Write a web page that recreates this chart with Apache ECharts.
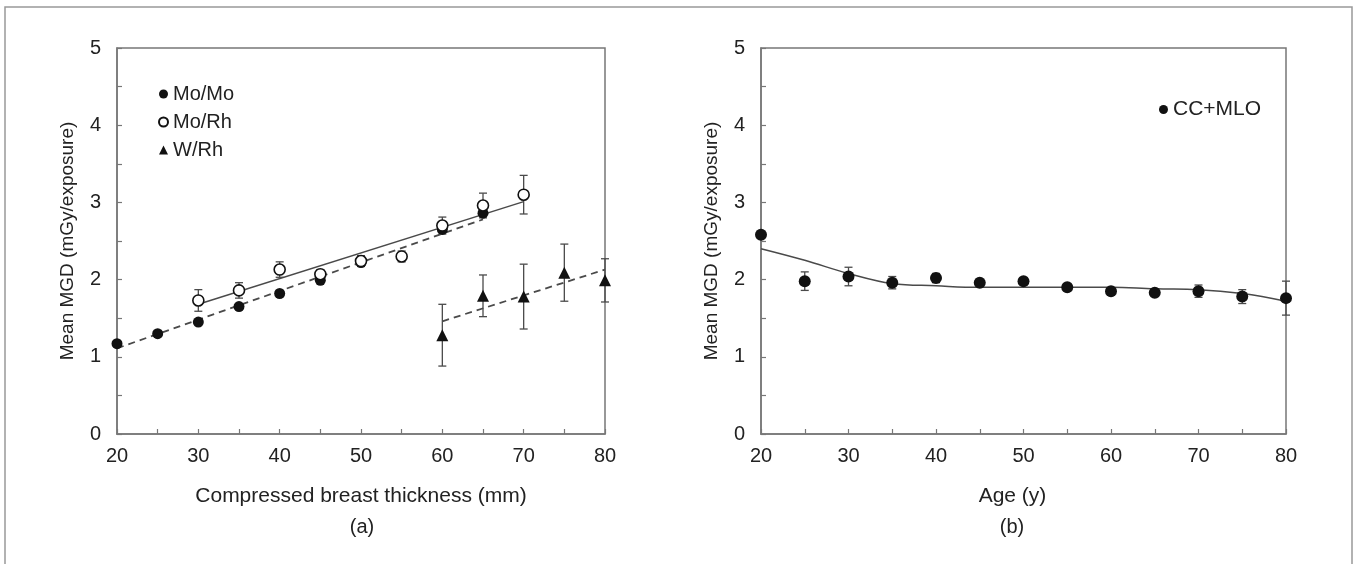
<!DOCTYPE html>
<html>
<head>
<meta charset="utf-8">
<script src="https://cdn.jsdelivr.net/npm/echarts@6/dist/echarts.min.js"></script>
<style>
html,body{margin:0;padding:0;background:#fff;}
#c{width:1361px;height:564px;}
</style>
</head>
<body>
<div id="c"></div>
<script>
// ---- Panel (a): MGD vs compressed breast thickness ----
const moMoX = [20, 25, 30, 35, 40, 45, 50, 60, 65];
const moMoY = [1.17, 1.30, 1.45, 1.65, 1.82, 1.99, 2.22, 2.65, 2.86];

const moRhX = [30, 35, 40, 45, 50, 55, 60, 65, 70];
const moRhY = [1.73, 1.86, 2.13, 2.07, 2.24, 2.30, 2.70, 2.96, 3.10];
const moRhErr = [0.14, 0.10, 0.10, 0.06, 0.07, 0.07, 0.11, 0.16, 0.25];

const wRhX = [60, 65, 70, 75, 80];
const wRhY = [1.28, 1.79, 1.78, 2.09, 1.99];
const wRhErr = [0.40, 0.27, 0.42, 0.37, 0.28];

const moMoFitX = [20, 65];
const moMoFitY = [1.11, 2.78];
const moRhFitX = [30, 70];
const moRhFitY = [1.68, 3.01];
const wRhFitX = [60, 80];
const wRhFitY = [1.46, 2.13];

// ---- Panel (b): MGD vs age ----
const ageX = [20, 25, 30, 35, 40, 45, 50, 55, 60, 65, 70, 75, 80];
const ageY = [2.58, 1.98, 2.04, 1.96, 2.02, 1.96, 1.98, 1.90, 1.85, 1.83, 1.85, 1.78, 1.76];
const ageErr = [0, 0.12, 0.12, 0.08, 0.06, 0.03, 0.03, 0.02, 0.02, 0.03, 0.08, 0.09, 0.22];
const ageFitY = [2.40, 2.25, 2.08, 1.95, 1.92, 1.90, 1.90, 1.90, 1.90, 1.88, 1.87, 1.82, 1.72];

const xTicksA = [20, 30, 40, 50, 60, 70, 80];
const yTicks = [0, 1, 2, 3, 4, 5];

const FONT = '"Liberation Sans", Arial, sans-serif';
const TXT = '#222';
const AX = '#777';
const MK = '#111';
const LN = '#4a4a4a';

function zip(xs, ys) { return xs.map((x, i) => [x, ys[i]]); }
function zipErr(xs, ys, es) { return xs.map((x, i) => [x, ys[i] - es[i], ys[i] + es[i]]); }

function errRender(params, api) {
  const x = api.value(0), lo = api.value(1), hi = api.value(2);
  if (hi - lo <= 0) return null;
  const p1 = api.coord([x, hi]);
  const p2 = api.coord([x, lo]);
  const w = 4;
  const style = { stroke: LN, lineWidth: 1.3 };
  return {
    type: 'group',
    children: [
      { type: 'line', shape: { x1: p1[0], y1: p1[1], x2: p2[0], y2: p2[1] }, style },
      { type: 'line', shape: { x1: p1[0] - w, y1: p1[1], x2: p1[0] + w, y2: p1[1] }, style },
      { type: 'line', shape: { x1: p2[0] - w, y1: p2[1], x2: p2[0] + w, y2: p2[1] }, style }
    ]
  };
}

function xAxisCfg(gi, name, shift) {
  return {
    type: 'value', gridIndex: gi, min: 20, max: 80, interval: 5,
    name: name, nameLocation: 'middle', nameGap: 52,
    nameTextStyle: { fontFamily: FONT, fontSize: 21, color: TXT, padding: [0, shift, 0, 0] },
    axisLine: { show: true, onZero: false, lineStyle: { color: AX, width: 1.5 } },
    axisTick: { show: true, inside: true, length: 5, lineStyle: { color: AX, width: 1.2 } },
    axisLabel: {
      margin: 12, fontFamily: FONT, fontSize: 20, color: TXT,
      formatter: v => (xTicksA.indexOf(v) >= 0 ? String(v) : '')
    },
    splitLine: { show: false }
  };
}
function yAxisCfg(gi) {
  return {
    type: 'value', gridIndex: gi, min: 0, max: 5, interval: 0.5,
    name: 'Mean MGD (mGy/exposure)', nameLocation: 'middle', nameGap: 40,
    nameTextStyle: { fontFamily: FONT, fontSize: 19, color: TXT },
    axisLine: { show: true, onZero: false, lineStyle: { color: AX, width: 1.5 } },
    axisTick: { show: true, inside: true, length: 5, lineStyle: { color: AX, width: 1.2 } },
    axisLabel: {
      margin: 16, fontFamily: FONT, fontSize: 20, color: TXT,
      formatter: v => (yTicks.indexOf(v) >= 0 ? String(v) : '')
    },
    splitLine: { show: false }
  };
}

const chart = echarts.init(document.getElementById('c'), null, { renderer: 'canvas' });
chart.setOption({
  backgroundColor: '#fff',
  animation: false,
  graphic: [
    { type: 'rect', shape: { x: 5, y: 7, width: 1347, height: 600 },
      style: { fill: 'none', stroke: '#999', lineWidth: 1.5 }, silent: true, z: -1 },
    { type: 'text', x: 362, y: 527, silent: true,
      style: { text: '(a)', fontFamily: FONT, fontSize: 20, fill: TXT, align: 'center', verticalAlign: 'middle' } },
    { type: 'text', x: 1012, y: 527, silent: true,
      style: { text: '(b)', fontFamily: FONT, fontSize: 20, fill: TXT, align: 'center', verticalAlign: 'middle' } }
  ],
  grid: [
    { left: 117, right: 756, top: 48, bottom: 130, show: true, borderColor: AX, borderWidth: 1.5, backgroundColor: 'transparent' },
    { left: 761, right: 75, top: 48, bottom: 130, show: true, borderColor: AX, borderWidth: 1.5, backgroundColor: 'transparent' }
  ],
  legend: [
    { data: ['Mo/Mo', 'Mo/Rh', 'W/Rh'], orient: 'vertical', left: 153, top: 79,
      itemWidth: 9, itemHeight: 9, itemGap: 8,
      textStyle: { fontFamily: FONT, fontSize: 20, color: TXT } },
    { data: ['CC+MLO'], orient: 'vertical', left: 1154, top: 94,
      itemWidth: 9, itemHeight: 9,
      textStyle: { fontFamily: FONT, fontSize: 21, color: TXT } }
  ],
  xAxis: [xAxisCfg(0, 'Compressed breast thickness (mm)', 0), xAxisCfg(1, 'Age (y)', 22)],
  yAxis: [yAxisCfg(0), yAxisCfg(1)],
  series: [
    { type: 'line', name: 'fitMoMo', xAxisIndex: 0, yAxisIndex: 0, data: zip(moMoFitX, moMoFitY),
      symbol: 'none', lineStyle: { color: LN, width: 1.8, type: [7, 5] }, z: 2 },
    { type: 'line', name: 'fitMoRh', xAxisIndex: 0, yAxisIndex: 0, data: zip(moRhFitX, moRhFitY),
      symbol: 'none', lineStyle: { color: LN, width: 1.5 }, z: 2 },
    { type: 'line', name: 'fitWRh', xAxisIndex: 0, yAxisIndex: 0, data: zip(wRhFitX, wRhFitY),
      symbol: 'none', lineStyle: { color: LN, width: 1.8, type: [7, 5] }, z: 2 },
    { type: 'custom', name: 'errMoRh', xAxisIndex: 0, yAxisIndex: 0, renderItem: errRender,
      data: zipErr(moRhX, moRhY, moRhErr), z: 3 },
    { type: 'custom', name: 'errWRh', xAxisIndex: 0, yAxisIndex: 0, renderItem: errRender,
      data: zipErr(wRhX, wRhY, wRhErr), z: 3 },
    { type: 'scatter', name: 'Mo/Mo', xAxisIndex: 0, yAxisIndex: 0, data: zip(moMoX, moMoY),
      symbol: 'circle', symbolSize: 11, itemStyle: { color: MK, opacity: 1 }, z: 5 },
    { type: 'scatter', name: 'Mo/Rh', xAxisIndex: 0, yAxisIndex: 0, data: zip(moRhX, moRhY),
      symbol: 'circle', symbolSize: 11, itemStyle: { color: '#fff', borderColor: MK, borderWidth: 1.6, opacity: 1 }, z: 6 },
    { type: 'scatter', name: 'W/Rh', xAxisIndex: 0, yAxisIndex: 0, data: zip(wRhX, wRhY),
      symbol: 'triangle', symbolSize: 12, itemStyle: { color: MK, opacity: 1 }, z: 5 },

    { type: 'line', name: 'fitAge', xAxisIndex: 1, yAxisIndex: 1, data: zip(ageX, ageFitY),
      symbol: 'none', smooth: 0.4, lineStyle: { color: LN, width: 1.5 }, z: 2 },
    { type: 'custom', name: 'errAge', xAxisIndex: 1, yAxisIndex: 1, renderItem: errRender,
      data: zipErr(ageX, ageY, ageErr), z: 3 },
    { type: 'scatter', name: 'CC+MLO', xAxisIndex: 1, yAxisIndex: 1, data: zip(ageX, ageY),
      symbol: 'circle', symbolSize: 12, itemStyle: { color: MK, opacity: 1 }, z: 5 }
  ]
});
</script>
</body>
</html>
